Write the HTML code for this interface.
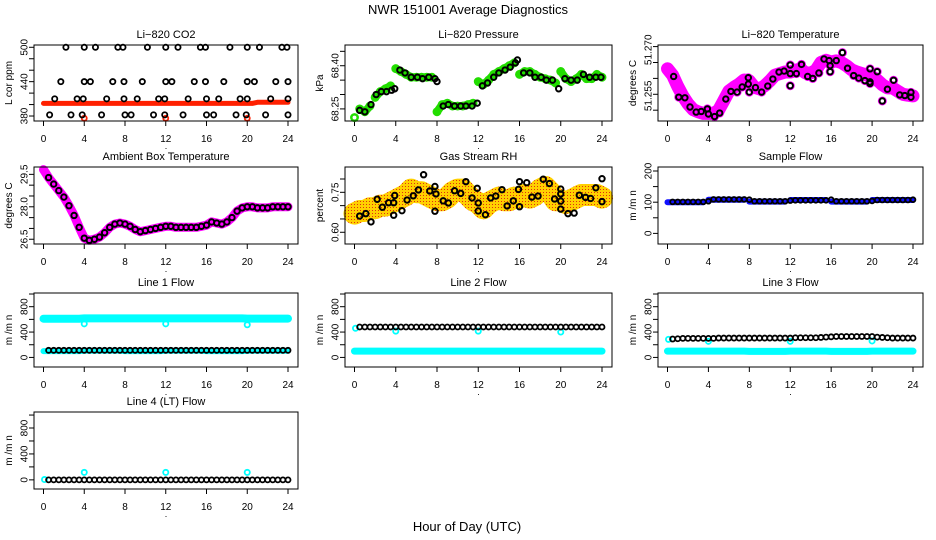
<!DOCTYPE html>
<html><head><meta charset="utf-8"><title>NWR 151001 Average Diagnostics</title>
<style>
html,body{margin:0;padding:0;background:#fff;}
svg{display:block;font-family:"Liberation Sans",Arial,sans-serif;}
</style></head>
<body>
<svg id="chart" width="936" height="540" viewBox="0 0 936 540" xmlns="http://www.w3.org/2000/svg">
<defs>
<pattern id="rhpat" width="3" height="3" patternUnits="userSpaceOnUse">
<rect width="3" height="3" fill="#ffd000"/><rect width="1" height="1" fill="#e03010"/>
</pattern>
</defs>
<text x="468" y="14" font-size="13" text-anchor="middle">NWR  151001  Average Diagnostics</text>
<text x="467" y="531" font-size="13" text-anchor="middle">Hour of Day (UTC)</text>
</svg>
<script>
// ---------- data ----------
const hrs = [0,0.5,1,1.5,2,2.5,3,3.5,4,4.5,5,5.5,6,6.5,7,7.5,8,8.5,9,9.5,10,10.5,11,11.5,12,12.5,13,13.5,14,14.5,15,15.5,16,16.5,17,17.5,18,18.5,19,19.5,20,20.5,21,21.5,22,22.5,23,23.5,24];
const xTicks = [0,4,8,12,16,20,24];

const co2Hours = [2.2,4,5.1,7.3,7.8,10.2,12,13.2,15.4,15.9,18.3,20,21.2,23.4,23.9, 1.7,4,4.6,6.8,7.9,9.7,12,12.6,14.8,15.9,17.7,20,20.7,22.8,24, 1.1,3.3,3.9,6.2,7.9,9.2,11.3,11.9,14.2,16,17.2,19.3,20,22.3,24, 0.6,2.7,3.8,5.7,8,8.6,10.8,11.9,13.7,16,16.7,18.9,19.9,21.8,24];
const co2Vals = [500,500,500,500,500,500,500,500,500,500,500,500,500,500,500, 440,440,440,440,440,440,440,440,440,440,440,440,440,440,440, 410,410,410,410,410,410,410,410,410,410,410,410,410,410,410, 382,382,382,382,382,382,382,382,382,382,382,382,382,382,382];
const co2Red = [402,402,402,402,402,402,402,402,402,402,402,402,402,402,402,402,402,402,402,402,402,402,402,402,402,402,402,402,402,402,402,402,402,402,402,402,402,402,402,402,402,402,404,404,404,404,404,404,404];
const co2RedOutHours = [4,12,20];
const co2RedOutVals = [376,376,376];

const presHours = [0.5,1,1.6,2.1,2.6,3.1,3.6,3.9,4.4,4.9,5.5,6.1,6.6,7.2,7.8,8,8.6,9.1,9.7,10.3,10.8,11.4,11.9,12.4,12.9,13.5,14,14.6,15.1,15.6,15.8,16.4,17,17.5,18.1,18.6,19.2,19.8,20.4,21,21.6,22.2,22.8,23.4,23.9];
const presBlack = [68.245,68.24,68.265,68.30,68.31,68.31,68.315,68.32,68.385,68.375,68.36,68.36,68.355,68.36,68.355,68.345,68.26,68.265,68.26,68.26,68.26,68.26,68.27,68.33,68.34,68.36,68.375,68.385,68.395,68.41,68.42,68.375,68.375,68.36,68.36,68.35,68.35,68.32,68.355,68.35,68.35,68.37,68.36,68.36,68.36];
const presGreen = [68.22,68.25,68.24,68.26,68.29,68.31,68.32,68.33,68.39,68.38,68.37,68.36,68.36,68.36,68.36,68.36,68.24,68.265,68.27,68.26,68.26,68.26,68.265,68.27,68.345,68.335,68.35,68.37,68.38,68.39,68.40,68.41,68.37,68.38,68.38,68.37,68.36,68.355,68.35,68.34,68.38,68.355,68.345,68.355,68.37,68.355,68.355,68.37,68.36];

const tempHours = [0.6,1.1,1.7,2.2,2.8,3.3,3.9,4,4.6,5.1,5.7,6.2,6.8,7.3,7.9,7.9,8,8.6,9.2,9.8,10.3,10.9,11.4,12,12,12,12.6,13.1,13.7,14.2,14.8,15.3,15.8,15.9,15.9,16.5,17.1,17.6,18.2,18.7,19.3,19.8,19.8,19.8,20.5,21,21.5,22.1,22.7,23.2,23.8,23.8];
const tempBlack = [51.2606,51.2541,51.2539,51.2510,51.2494,51.2496,51.2504,51.2488,51.2480,51.2491,51.2535,51.2559,51.2557,51.2573,51.2602,51.2582,51.2557,51.2571,51.2557,51.2576,51.2598,51.2620,51.2623,51.2615,51.2642,51.2577,51.2615,51.2644,51.2606,51.2600,51.2617,51.2661,51.2656,51.2640,51.2621,51.2656,51.2681,51.2632,51.2609,51.2601,51.2593,51.2589,51.2630,51.2584,51.2621,51.2529,51.2566,51.2594,51.2548,51.2546,51.2556,51.2541];
const tempMag = [51.2630,51.2610,51.2575,51.2545,51.2520,51.2502,51.2495,51.2490,51.2490,51.2490,51.2500,51.2530,51.2560,51.2572,51.2582,51.2595,51.2592,51.2572,51.2567,51.2577,51.2592,51.2610,51.2615,51.2620,51.2620,51.2625,51.2630,51.2617,51.2617,51.2625,51.2650,51.2657,51.2652,51.2655,51.2650,51.2640,51.2627,51.2620,51.2615,51.2610,51.2605,51.2595,51.2580,51.2570,51.2570,51.2560,51.2550,51.2547,51.2545];

const ambVals = [29.72,29.35,29.05,28.75,28.45,28.05,27.6,27.05,26.55,26.45,26.5,26.6,26.8,27.05,27.2,27.25,27.2,27.1,26.95,26.85,26.9,26.95,27.0,27.05,27.1,27.1,27.05,27.05,27.05,27.05,27.05,27.1,27.15,27.3,27.25,27.2,27.3,27.5,27.8,27.95,28.0,28.0,27.95,27.95,27.95,28.0,28.0,28.0,28.0];
const ambBlack = [29.35,29.05,28.75,28.45,28.05,27.6,27.05,26.55,26.45,26.5,26.6,26.8,27.05,27.2,27.25,27.2,27.1,26.95,26.85,26.9,26.95,27.0,27.05,27.1,27.1,27.05,27.05,27.05,27.05,27.05,27.1,27.15,27.3,27.25,27.2,27.3,27.5,27.8,27.95,28.0,28.0,27.95,27.95,27.95,28.0,28.0,28.0,28.0];

const rhHours = [0.5,1.1,1.6,2.2,2.7,3.3,3.8,3.8,3.9,4.6,5.1,5.7,6.2,6.7,7.3,7.8,7.9,7.8,8.6,9.1,9.7,10.3,10.8,11.4,11.9,12,12,12.7,13.2,13.7,14.3,14.8,15.4,15.9,16,16,16.7,17.2,17.8,18.3,18.9,19.4,20,20,20,20,20.7,21.3,21.8,22.4,22.9,23.4,24,24];
const rhBlack = [0.661,0.670,0.639,0.724,0.694,0.711,0.711,0.664,0.738,0.681,0.721,0.737,0.759,0.816,0.755,0.772,0.744,0.679,0.718,0.710,0.756,0.746,0.790,0.729,0.765,0.710,0.680,0.666,0.729,0.736,0.760,0.699,0.718,0.761,0.790,0.696,0.786,0.732,0.736,0.799,0.783,0.725,0.687,0.717,0.744,0.762,0.670,0.672,0.739,0.731,0.727,0.767,0.801,0.715];
const rhCloud = [0.67,0.68,0.68,0.69,0.69,0.70,0.70,0.71,0.72,0.73,0.74,0.76,0.75,0.75,0.74,0.73,0.72,0.72,0.73,0.75,0.76,0.76,0.74,0.72,0.71,0.69,0.71,0.72,0.73,0.72,0.72,0.73,0.73,0.74,0.73,0.74,0.76,0.77,0.75,0.72,0.72,0.71,0.72,0.73,0.74,0.74,0.74,0.74,0.73];

const sampBlue = [100,100,100,100,100,100,100,100,108,108,108,108,108,108,108,108,102,102,102,102,102,102,102,102,107,107,107,107,107,107,107,107,102,102,102,102,102,102,102,102,107,107,107,107,107,107,107,107,107];
const sampBlack = [101,101,101,101,101,101,101,103,109,109,109,109,109,109,109,108,103,103,103,103,103,103,103,105,106,106,106,106,106,106,106,108,103,103,103,103,103,103,103,104,107,107,107,107,107,107,107,108];

const l1CyanHi = [610,610,610,610,610,610,610,610,615,615,615,615,615,615,615,615,615,615,615,615,615,615,615,615,615,615,615,615,615,615,615,615,615,615,615,615,615,615,615,615,612,612,612,612,612,612,612,612,612];
const l1CyanLo = [100,100,100,100,100,100,100,100,105,105,105,105,105,105,105,105,100,100,100,100,100,100,100,100,105,105,105,105,105,105,105,105,100,100,100,100,100,100,100,100,105,105,105,105,105,105,105,105,105];
const l1Black = [112,112,112,112,112,112,112,112,112,112,112,112,112,112,112,112,112,112,112,112,112,112,112,112,112,112,112,112,112,112,112,112,112,112,112,112,112,112,112,112,112,112,112,112,112,112,112,112];
const l1OutHours = [4,12,20];
const l1OutVals = [530,530,515];

const l2CyanLo = [100,100,100,100,100,100,100,100,100,100,100,100,100,100,100,100,100,100,100,100,100,100,100,100,100,100,100,100,100,100,100,100,100,100,100,100,100,100,100,100,100,100,100,100,100,100,100,100,100];
const l2Black = [480,480,480,480,480,480,480,480,480,480,480,480,480,480,480,480,480,480,480,480,480,480,480,480,480,480,480,480,480,480,480,480,480,480,480,480,480,480,480,480,480,480,480,480,480,480,480,480];
const l2OutHours = [0.1,4,12,20];
const l2OutVals = [460,415,415,400];

const l3CyanLo = [100,100,100,100,100,100,100,100,100,100,100,100,100,100,100,100,95,95,95,95,95,95,95,95,100,100,100,100,100,100,100,100,95,95,95,95,95,95,95,95,100,100,100,100,100,100,100,100,100];
const l3Black = [290,295,300,300,300,300,300,300,300,305,305,305,305,305,305,305,305,305,305,305,305,305,305,305,310,310,310,310,310,315,320,325,330,330,330,330,330,330,330,330,320,315,310,305,305,305,305,305];
const l3OutHours = [0.1,4,12,20];
const l3OutVals = [285,254,254,260];

const l4Black = [0,0,0,0,0,0,0,0,0,0,0,0,0,0,0,0,0,0,0,0,0,0,0,0,0,0,0,0,0,0,0,0,0,0,0,0,0,0,0,0,0,0,0,0,0,0,0,0];
const l4OutHours = [0.1,4,12,20];
const l4OutVals = [5,115,115,115];

// ---------- layout ----------
const NS = 'http://www.w3.org/2000/svg';
const svg = document.getElementById('chart');
function mk(tag, attrs, parent){ const e=document.createElementNS(NS,tag); for(const k in attrs) e.setAttribute(k,attrs[k]); (parent||svg).appendChild(e); return e; }

const cols=[[34,298],[345,612],[658,923]];
const rows=[[45,121],[167,244],[293,367],[412,489]];
function box(c,r,y0,y1){ return {l:cols[c][0],r:cols[c][1],t:rows[r][0],b:rows[r][1],y0:y0,y1:y1}; }
function sx(p,h){ return p.l+9.5+(h/24)*(p.r-p.l-19.5); }
function sy(p,v){ return p.b-(v-p.y0)/(p.y1-p.y0)*(p.b-p.t); }

function panel(p, name, title, ylab, ticks, labels){
  const g=mk('g',{});
  
  
  p.g=g;
  const t=mk('text',{x:(p.l+p.r)/2,y:p.t-7,'font-size':11,'text-anchor':'middle'},g);
  
  
  t.textContent=title;
  const yl=mk('text',{transform:'translate('+(p.l-22)+','+((p.t+p.b)/2)+') rotate(-90)','font-size':10,'text-anchor':'middle'},g);
  
  
  yl.textContent=ylab;
  const ya=mk('g',{},g);
  
  
  mk('line',{x1:p.l,x2:p.l,y1:sy(p,ticks[0]),y2:sy(p,ticks[ticks.length-1]),stroke:'#000'},ya);
  ticks.forEach(v=>{ mk('line',{x1:p.l-5,x2:p.l,y1:sy(p,v),y2:sy(p,v),stroke:'#000'},ya); });
  labels.forEach(lb=>{
    const tx=mk('text',{transform:'translate('+(p.l-9)+','+sy(p,lb[0])+') rotate(-90)','font-size':10,'text-anchor':'middle','dominant-baseline':'central'},ya);
    
    
    tx.textContent=lb[1];
  });
  const xa=mk('g',{},g);
  
  
  mk('line',{x1:sx(p,0),x2:sx(p,24),y1:p.b,y2:p.b,stroke:'#000'},xa);
  xTicks.forEach(h=>{
    mk('line',{x1:sx(p,h),x2:sx(p,h),y1:p.b,y2:p.b+5,stroke:'#000'},xa);
    const tx=mk('text',{x:sx(p,h),y:p.b+21,'font-size':10,'text-anchor':'middle'},xa);
    
    
    tx.textContent=String(h);
  });
  const dot=mk('text',{x:(p.l+p.r)/2,y:p.b+28,'font-size':9,'text-anchor':'middle'},xa);
  
  
  dot.textContent='.';
  const data=mk('g',{},g);
  
  
  p.d=data;
  p.name=name;
  return p;
}
function frame(p){
  const fr=mk('rect',{x:p.l,y:p.t,width:p.r-p.l,height:p.b-p.t,fill:'none',stroke:'#000'},p.g);
  
  
}
function points(p,xs,ys,color,r,sw,name){
  const g=mk('g',{fill:'none',stroke:color,'stroke-width':sw},p.d);
  
  
  for(let i=0;i<ys.length;i++){
    const c=mk('circle',{cx:sx(p,xs[i]),cy:sy(p,ys[i]),r:r},g);
    
    
  }
}
function band(p,xs,ys,color,w,name,maxJump){
  const g=mk('g',{fill:'none',stroke:color,'stroke-width':w,'stroke-linecap':'round','stroke-linejoin':'round'},p.d);
  
  
  let seg=[];
  const flush=()=>{ if(seg.length){ const pl=mk('polyline',{points:seg.join(' ')},g);   } seg=[]; };
  for(let i=0;i<ys.length;i++){
    if(i>0 && maxJump!==undefined && Math.abs(ys[i]-ys[i-1])>maxJump) flush();
    seg.push(sx(p,xs[i]).toFixed(1)+','+sy(p,ys[i]).toFixed(1));
  }
  flush();
}
const blackHrs = hrs.slice(1);

// CO2
let p=panel(box(0,0,371.3,504),'co2','Li\u2212820 CO2','L cor ppm',[380,400,420,440,460,480,500],[[380,'380'],[440,'440'],[500,'500']]);
band(p,hrs,co2Red,'#ff2000',5,'co2-red-series');
points(p,co2RedOutHours,co2RedOutVals,'#ff2000',2.5,1.8,'co2-red-outliers');
points(p,co2Hours,co2Vals,'#000',2.6,1.8,'co2-black-series');
frame(p);

// Pressure
p=panel(box(1,0,68.208,68.472),'pressure','Li\u2212820 Pressure','kPa',[68.25,68.30,68.35,68.40,68.45],[[68.25,'68.25'],[68.40,'68.40']]);
band(p,hrs,presGreen,'#22dd00',8,'pressure-green-band',0.03);
points(p,hrs,presGreen,'#22dd00',3.2,2.5,'pressure-green-series');
points(p,presHours,presBlack,'#000',2.7,2,'pressure-black-series');
frame(p);

// Temperature
p=panel(box(2,0,51.2466,51.2705),'temperature','Li\u2212820 Temperature','degrees C',[51.250,51.255,51.260,51.265,51.270],[[51.2690,'51.270'],[51.2545,'51.255']]);
band(p,hrs,tempMag,'#ff00ff',13,'temperature-magenta-band');
points(p,tempHours,tempBlack,'#ff00ff',3.5,2,'temperature-magenta-points');
points(p,tempHours,tempBlack,'#000',2.7,2,'temperature-black-series');
frame(p);

// Ambient
p=panel(box(0,1,26.28,29.84),'ambient','Ambient Box Temperature','degrees C',[26.5,27.0,27.5,28.0,28.5,29.0,29.5],[[26.5,'26.5'],[28.0,'28.0'],[29.5,'29.5']]);
band(p,hrs,ambVals,'#ff00ff',9,'ambient-magenta-band');
points(p,blackHrs,ambBlack,'#000',2.7,2,'ambient-black-series');
frame(p);

// RH
p=panel(box(1,1,0.556,0.845),'rh','Gas Stream RH','percent',[0.60,0.65,0.70,0.75,0.80],[[0.60,'0.60'],[0.75,'0.75']]);
band(p,hrs,rhCloud,'url(#rhpat)',22,'rh-cloud-band');
points(p,rhHours,rhBlack,'#000',2.7,2,'rh-black-series');
frame(p);

// Sample flow
p=panel(box(2,1,-34,212.8),'sample-flow','Sample Flow','m /m n',[0,50,100,150,200],[[0,'0'],[100,'100'],[200,'200']]);
band(p,hrs,sampBlue,'#1010ff',6,'sample-flow-blue-band',3);
points(p,blackHrs,sampBlack,'#000',2.4,1.8,'sample-flow-black-series');
frame(p);

const flowTicks=[0,200,400,600,800,1000];
const flowLabels=[[0,'0'],[400,'400'],[800,'800']];
// Line 1
p=panel(box(0,2,-151,1016),'line1-flow','Line 1 Flow','m /m n',flowTicks,flowLabels);
band(p,hrs,l1CyanHi,'#00ffff',8,'line1-cyan-high-band');
band(p,hrs,l1CyanLo,'#00ffff',6,'line1-cyan-low-band');
points(p,l1OutHours,l1OutVals,'#00ffff',2.6,1.8,'line1-cyan-outliers');
points(p,blackHrs,l1Black,'#000',2.5,1.8,'line1-black-series');
frame(p);
// Line 2
p=panel(box(1,2,-151,1016),'line2-flow','Line 2 Flow','m /m n',flowTicks,flowLabels);
band(p,hrs,l2CyanLo,'#00ffff',7,'line2-cyan-low-band');
points(p,l2OutHours,l2OutVals,'#00ffff',2.6,1.8,'line2-cyan-outliers');
points(p,blackHrs,l2Black,'#000',2.5,1.8,'line2-black-series');
frame(p);
// Line 3
p=panel(box(2,2,-151,1016),'line3-flow','Line 3 Flow','m /m n',flowTicks,flowLabels);
band(p,hrs,l3CyanLo,'#00ffff',7,'line3-cyan-low-band');
points(p,l3OutHours,l3OutVals,'#00ffff',2.6,1.8,'line3-cyan-outliers');
points(p,blackHrs,l3Black,'#000',2.5,1.8,'line3-black-series');
frame(p);
// Line 4
p=panel(box(0,3,-141,1047),'line4-flow','Line 4 (LT) Flow','m /m n',flowTicks,flowLabels);
points(p,l4OutHours,l4OutVals,'#00ffff',2.6,1.8,'line4-cyan-outliers');
points(p,blackHrs,l4Black,'#000',2.5,1.8,'line4-black-series');
frame(p);
</script>
</body></html>
